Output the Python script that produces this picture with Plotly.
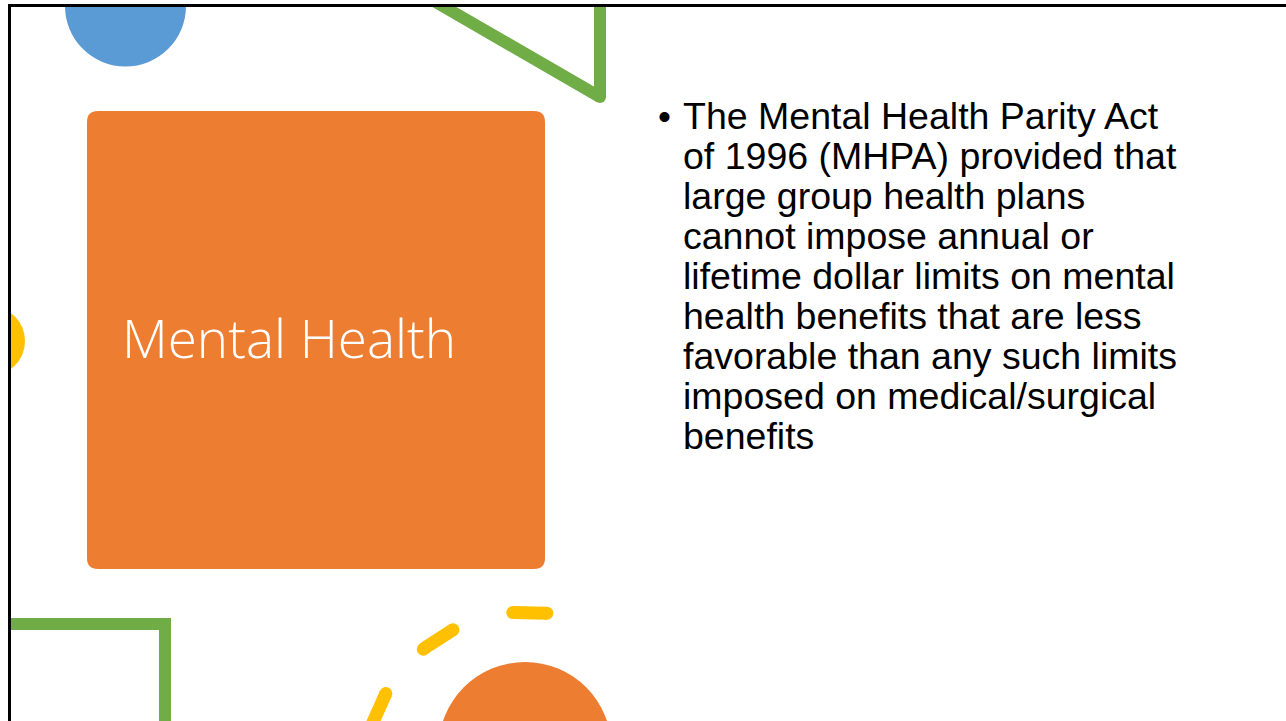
import numpy as np
import plotly.graph_objects as go

W, H = 1286, 721

# slide text
title = "Mental Health"
bullet_lines = [
    "The Mental Health Parity Act",
    "of 1996 (MHPA) provided that",
    "large group health plans",
    "cannot impose annual or",
    "lifetime dollar limits on mental",
    "health benefits that are less",
    "favorable than any such limits",
    "imposed on medical/surgical",
    "benefits",
]

# decorative dashed arc (degrees, counter-clockwise from +x)
dash_start = [83, 117, 150]
dash_end = [95, 129.5, 170]

orange = "#ED7D31"
blue = "#5B9BD5"
green = "#70AD47"
yellow = "#FFC000"

fig = go.Figure()

# dashed yellow arc around the lower orange circle
cx, cy, r = 527, 775, 163
for a0, a1 in zip(dash_start, dash_end):
    t = np.radians(np.linspace(a0, a1, 40))
    xs = cx + r * np.cos(t)
    ys = cy - r * np.sin(t)
    fig.add_trace(go.Scatter(x=xs, y=ys, mode="lines", line=dict(color=yellow, width=13),
                             hoverinfo="skip", showlegend=False))
    fig.add_trace(go.Scatter(x=[xs[0], xs[-1]], y=[ys[0], ys[-1]], mode="markers",
                             marker=dict(color=yellow, size=13, line_width=0),
                             hoverinfo="skip", showlegend=False))

# green triangle at the top (two strokes, rounded join)
tri_x = [415, 600, 600]
tri_y = [-10, 97, -10]
fig.add_trace(go.Scatter(x=tri_x[:2], y=tri_y[:2], mode="lines", line=dict(color=green, width=12),
                         hoverinfo="skip", showlegend=False))
fig.add_trace(go.Scatter(x=tri_x[1:], y=tri_y[1:], mode="lines", line=dict(color=green, width=12),
                         hoverinfo="skip", showlegend=False))
fig.add_trace(go.Scatter(x=[tri_x[1]], y=[tri_y[1]], mode="markers",
                         marker=dict(color=green, size=12, line_width=0),
                         hoverinfo="skip", showlegend=False))

shapes = []


def circle(x, y, rad, color):
    return dict(type="circle", xref="x", yref="y", x0=x - rad, x1=x + rad, y0=y - rad, y1=y + rad,
                fillcolor=color, line_width=0, layer="below")


shapes.append(circle(125.5, 6, 60.5, blue))
shapes.append(circle(-10, 341, 35, yellow))
shapes.append(circle(525, 748.5, 86.5, orange))

# orange rounded square
x0, x1, y0, y1, rr = 87, 545, 111, 569, 11
path = (f"M {x0 + rr} {y0} L {x1 - rr} {y0} Q {x1} {y0} {x1} {y0 + rr} "
        f"L {x1} {y1 - rr} Q {x1} {y1} {x1 - rr} {y1} L {x0 + rr} {y1} "
        f"Q {x0} {y1} {x0} {y1 - rr} L {x0} {y0 + rr} Q {x0} {y0} {x0 + rr} {y0} Z")
shapes.append(dict(type="path", xref="x", yref="y", path=path, fillcolor=orange, line_width=0, layer="below"))

# green corner bracket bottom-left
shapes.append(dict(type="path", xref="x", yref="y", path="M -20 624 L 165 624 L 165 740",
                   line=dict(color=green, width=12), layer="below"))

# area outside the slide, then the slide border
shapes.append(dict(type="rect", xref="x", yref="y", x0=-50, x1=9, y0=-50, y1=H + 50,
                   fillcolor="white", line_width=0, layer="above"))
shapes.append(dict(type="rect", xref="x", yref="y", x0=-50, x1=W + 50, y0=-50, y1=5,
                   fillcolor="white", line_width=0, layer="above"))
shapes.append(dict(type="line", xref="x", yref="y", x0=9.5, x1=W + 10, y0=5.5, y1=5.5,
                   line=dict(color="black", width=3), layer="above"))
shapes.append(dict(type="line", xref="x", yref="y", x0=9.5, x1=9.5, y0=4, y1=H + 10,
                   line=dict(color="black", width=3), layer="above"))

annotations = [dict(x=120, y=337, xref="x", yref="y", text=title, showarrow=False,
                    xanchor="left", yanchor="middle",
                    font=dict(family="Open Sans", size=53, color="white", weight=300))]

annotations.append(dict(x=656, y=116, xref="x", yref="y", text="•", showarrow=False,
                        xanchor="left", yanchor="middle",
                        font=dict(family="Liberation Sans, Arial", size=37, color="black")))
for i, line in enumerate(bullet_lines):
    annotations.append(dict(x=681, y=116 + 40 * i, xref="x", yref="y", text=line, showarrow=False,
                            xanchor="left", yanchor="middle",
                            font=dict(family="Liberation Sans, Arial", size=37.5, color="black")))

fig.update_layout(
    width=W, height=H,
    margin=dict(l=0, r=0, t=0, b=0),
    paper_bgcolor="white", plot_bgcolor="white",
    xaxis=dict(range=[0, W], visible=False, fixedrange=True),
    yaxis=dict(range=[H, 0], visible=False, fixedrange=True),
    shapes=shapes, annotations=annotations,
    showlegend=False,
)

fig.write_html("out.html", config={"displayModeBar": False},
               post_script="document.body.style.margin='0';document.body.style.overflow='hidden';")
